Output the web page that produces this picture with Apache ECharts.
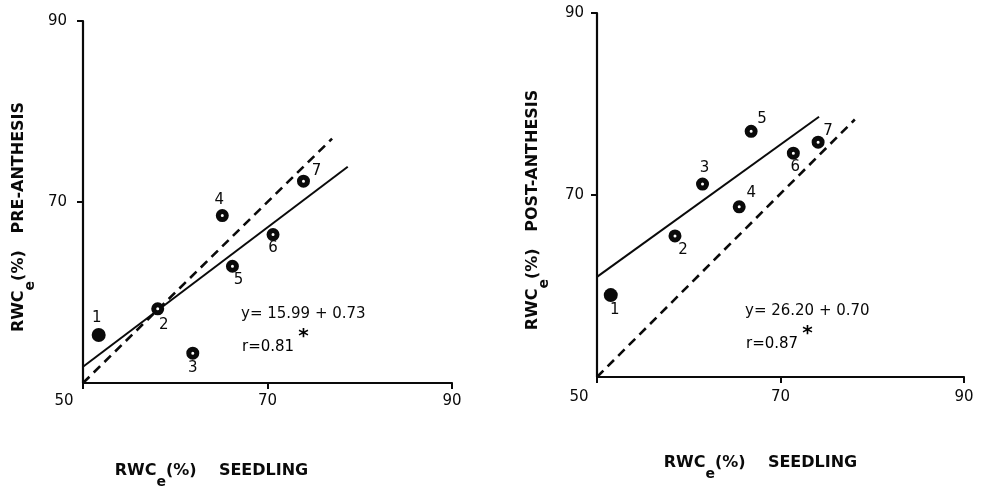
<!DOCTYPE html>
<html>
<head>
<meta charset="utf-8">
<script src="https://cdn.jsdelivr.net/npm/echarts@6/dist/echarts.min.js"></script>
<style>
html,body{margin:0;padding:0;background:#fff;}
#chart{width:987px;height:488px;}
</style>
</head>
<body>
<div id="chart"></div>
<script>
// ---- data ----
const pointIds = ['1', '2', '3', '4', '5', '6', '7'];
const preX  = [51.7, 58.1, 61.9, 65.1, 66.2, 70.6, 73.9];
const preY  = [55.3, 58.2, 53.3, 68.5, 62.9, 66.4, 72.3];
const postX = [51.5, 58.5, 61.5, 65.5, 66.8, 71.4, 74.1];
const postY = [59.0, 65.5, 71.2, 68.7, 77.0, 74.6, 75.8];
const preFitX  = [50, 78.7];
const preFitY  = [51.8, 73.9];
const preRefX  = [50, 77.0];
const preRefY  = [50, 77.0];
const postFitX = [50, 74.2];
const postFitY = [61.0, 78.6];
const postRefX = [50, 78.1];
const postRefY = [50, 78.3];
const tickValues = [50, 70, 90];
const preEquation = 'y= 15.99 + 0.73';
const preR = 'r=0.81';
const postEquation = 'y= 26.20 + 0.70';
const postR = 'r=0.87';

// ---- label placements (style, not data) ----
const preLabelOffsets  = [[-2,-17],[6,16],[0,15],[-3,-15],[6,14],[0,14],[13,-10]];
const postLabelOffsets = [[4,15],[8,14],[2,-16],[12,-14],[11,-12],[2,14],[10,-11]];

const FONT = '"DejaVu Sans", "Liberation Sans", Arial, sans-serif';
const INK = '#0a0a0a';

function pointData(xs, ys, offsets) {
  return xs.map((x, i) => ({
    name: pointIds[i],
    value: [x, ys[i]],
    label: { offset: offsets[i] },
    itemStyle: i === 0 ? { color: INK, borderWidth: 0, opacity: 1 } : undefined,
    symbolSize: i === 0 ? 14 : 8
  }));
}
function lineData(xs, ys) { return xs.map((x, i) => [x, ys[i]]); }

const nameRich = {
  n: { fontFamily: FONT, fontSize: 16, fontWeight: 'bold', color: INK, lineHeight: 18, verticalAlign: 'top' },
  sub: { fontFamily: FONT, fontSize: 14, fontWeight: 'bold', color: INK, lineHeight: 26, verticalAlign: 'bottom' }
};

function xAxisCfg(gridIndex, nameShift, nameGap, labelMargin, minShift) {
  return {
    type: 'value', gridIndex, min: tickValues[0], max: tickValues[tickValues.length - 1], interval: 20,
    axisLine: { show: true, onZero: false, lineStyle: { color: INK, width: 2.2 } },
    axisTick: { show: true, length: 6, lineStyle: { color: INK, width: 2 } },
    splitLine: { show: false },
    axisLabel: {
      margin: labelMargin, color: INK, fontFamily: FONT, fontSize: 15,
      formatter: v => v === 50 ? '{o|50}' : String(v),
      rich: { o: { fontFamily: FONT, fontSize: 15, color: INK, padding: [0, minShift * 2, 0, 0] } }
    },
    name: '{n|RWC}{sub|e}{n|(%)    SEEDLING}',
    nameLocation: 'middle', nameGap: nameGap,
    nameTextStyle: { padding: [0, nameShift * 2, 0, 0], rich: nameRich }
  };
}
function yAxisCfg(gridIndex, label, nameShift, nameGap, labelMargin) {
  return {
    type: 'value', gridIndex, min: tickValues[0], max: tickValues[tickValues.length - 1], interval: 20,
    axisLine: { show: true, onZero: false, lineStyle: { color: INK, width: 2.2 } },
    axisTick: { show: true, length: 6, lineStyle: { color: INK, width: 2 } },
    splitLine: { show: false },
    axisLabel: { showMinLabel: false, margin: labelMargin, color: INK, fontFamily: FONT, fontSize: 15 },
    name: '{n|RWC}{sub|e}{n|(%)   ' + label + '}',
    nameLocation: 'middle', nameGap: nameGap, nameRotate: 90,
    nameTextStyle: { padding: [0, nameShift * 2, 0, 0], rich: nameRich }
  };
}

const scatterStyle = {
  type: 'scatter', symbol: 'circle',
  itemStyle: { color: '#fff', borderColor: INK, borderWidth: 5, opacity: 1 },
  label: {
    show: true, position: 'inside', formatter: '{b}',
    color: INK, fontFamily: FONT, fontSize: 15
  },
  z: 5
};

function eqText(x, y, eq, r) {
  return [
    { type: 'text', x: x, y: y, style: { text: eq, font: '15px ' + FONT, fill: INK, verticalAlign: 'middle' } },
    { type: 'text', x: x + 1, y: y + 27, style: {
        text: '{a|' + r + '}{s|*}', verticalAlign: 'middle',
        rich: {
          a: { fontFamily: FONT, fontSize: 15, color: INK, lineHeight: 16, verticalAlign: 'bottom' },
          s: { fontFamily: FONT, fontSize: 20, fontWeight: 'bold', color: INK, lineHeight: 28, verticalAlign: 'top', padding: [0, 0, 0, 4] }
        }
    } }
  ];
}

const option = {
  animation: false,
  backgroundColor: '#fff',
  grid: [
    { left: 83, right: 535, top: 21, bottom: 105, outerBoundsMode: 'none', containLabel: false },
    { left: 597, right: 23, top: 13, bottom: 111, outerBoundsMode: 'none', containLabel: false }
  ],
  xAxis: [
    xAxisCfg(0, 56, 80, 11, 19),
    xAxisCfg(1, 20, 78, 13, 18)
  ],
  yAxis: [
    yAxisCfg(0, 'PRE-ANTHESIS', 15, 46, 16),
    yAxisCfg(1, 'POST-ANTHESIS', 15, 46, 13)
  ],
  series: [
    { type: 'line', xAxisIndex: 0, yAxisIndex: 0, data: lineData(preFitX, preFitY), symbol: 'none',
      lineStyle: { color: INK, width: 2 }, z: 3 },
    { type: 'line', xAxisIndex: 0, yAxisIndex: 0, data: lineData(preRefX, preRefY), symbol: 'none',
      lineStyle: { color: INK, width: 2.6, type: [9, 6] }, z: 3 },
    Object.assign({}, scatterStyle, { xAxisIndex: 0, yAxisIndex: 0, data: pointData(preX, preY, preLabelOffsets) }),
    { type: 'line', xAxisIndex: 1, yAxisIndex: 1, data: lineData(postFitX, postFitY), symbol: 'none',
      lineStyle: { color: INK, width: 2 }, z: 3 },
    { type: 'line', xAxisIndex: 1, yAxisIndex: 1, data: lineData(postRefX, postRefY), symbol: 'none',
      lineStyle: { color: INK, width: 2.6, type: [9, 6] }, z: 3 },
    Object.assign({}, scatterStyle, { xAxisIndex: 1, yAxisIndex: 1, data: pointData(postX, postY, postLabelOffsets) })
  ],
  graphic: [].concat(
    eqText(241, 314, preEquation, preR),
    eqText(745, 311, postEquation, postR)
  )
};

const chart = echarts.init(document.getElementById('chart'), null, { renderer: 'canvas' });
chart.setOption(option);
</script>
</body>
</html>
